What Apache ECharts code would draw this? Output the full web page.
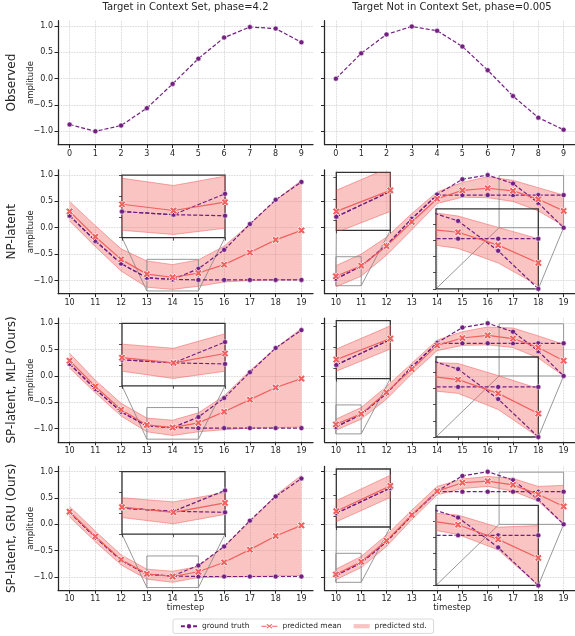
<!DOCTYPE html>
<html>
<head>
<meta charset="utf-8">
<script src="https://cdn.jsdelivr.net/npm/echarts@6/dist/echarts.min.js"></script>
<style>
  html, body { margin: 0; padding: 0; background: #fff; }
  #chart { width: 575px; height: 636px; }
</style>
</head>
<body>
<div id="chart"></div>
<script>
// x positions
const xObs = [0, 1, 2, 3, 4, 5, 6, 7, 8, 9];
const xTgt = [10, 11, 12, 13, 14, 15, 16, 17, 18, 19];
const yTicks = [-1, -0.5, 0, 0.5, 1];

// observed (context) curves
const obsLeft = [-0.87, -1.0, -0.89, -0.56, -0.10, 0.38, 0.78, 0.98, 0.95, 0.69];
const obsRight = [0.0, 0.48, 0.84, 0.99, 0.91, 0.61, 0.16, -0.33, -0.74, -0.97];

// ground truth targets (two branches each)
const gtLeftA = [0.23, -0.25, -0.68, -0.95, -0.98, -0.78, -0.42, 0.07, 0.53, 0.87];
const gtLeftB = [0.23, -0.25, -0.68, -0.95, -0.98, -0.99, -0.99, -0.99, -0.99, -0.99];
const gtRightA = [-0.97, -0.73, -0.33, 0.17, 0.63, 0.92, 1.0, 0.84, 0.47, 0.0];
const gtRightB = [-0.97, -0.73, -0.33, 0.17, 0.62, 0.62, 0.62, 0.62, 0.62, 0.62];

// NP-latent
const npLeftMean = [0.31, -0.17, -0.60, -0.88, -0.94, -0.86, -0.70, -0.47, -0.23, -0.05];
const npLeftUpper = [0.50, 0.04, -0.40, -0.63, -0.70, -0.61, -0.35, 0.07, 0.52, 0.90];
const npLeftLower = [0.13, -0.36, -0.82, -1.13, -1.17, -1.11, -1.03, -1.00, -0.99, -0.99];
const npRightMean = [-0.92, -0.72, -0.35, 0.11, 0.55, 0.71, 0.75, 0.70, 0.54, 0.32];
const npRightUpper = [-0.72, -0.50, -0.18, 0.27, 0.68, 0.86, 0.97, 0.90, 0.76, 0.62];
const npRightLower = [-1.12, -0.92, -0.52, -0.04, 0.46, 0.58, 0.57, 0.50, 0.32, 0.04];

// SP-latent, MLP
const mlpLeftMean = [0.29, -0.20, -0.64, -0.93, -0.98, -0.89, -0.68, -0.45, -0.22, -0.05];
const mlpLeftUpper = [0.43, -0.08, -0.52, -0.80, -0.84, -0.70, -0.38, 0.10, 0.53, 0.90];
const mlpLeftLower = [0.15, -0.32, -0.76, -1.06, -1.13, -1.06, -1.02, -0.99, -0.98, -0.97];
const mlpRightMean = [-0.92, -0.72, -0.31, 0.13, 0.58, 0.72, 0.77, 0.71, 0.54, 0.29];
const mlpRightUpper = [-0.82, -0.60, -0.20, 0.24, 0.68, 0.84, 0.93, 0.91, 0.76, 0.60];
const mlpRightLower = [-1.03, -0.82, -0.44, 0.04, 0.48, 0.58, 0.59, 0.54, 0.34, 0.00];

// SP-latent, GRU
const gruLeftMean = [0.24, -0.23, -0.67, -0.94, -0.99, -0.90, -0.72, -0.48, -0.22, -0.02];
const gruLeftUpper = [0.34, -0.13, -0.58, -0.85, -0.89, -0.80, -0.42, 0.05, 0.55, 0.93];
const gruLeftLower = [0.14, -0.33, -0.77, -1.04, -1.10, -1.01, -1.00, -0.99, -0.98, -0.97];
const gruRightMean = [-0.95, -0.71, -0.31, 0.18, 0.63, 0.79, 0.82, 0.75, 0.57, 0.34];
const gruRightUpper = [-0.85, -0.61, -0.20, 0.27, 0.72, 0.86, 0.91, 0.87, 0.72, 0.74];
const gruRightLower = [-1.05, -0.82, -0.42, 0.09, 0.56, 0.68, 0.72, 0.63, 0.44, 0.00];

const rowLabels = ['Observed', 'NP-latent', 'SP-latent, MLP (Ours)', 'SP-latent, GRU (Ours)'];
const colTitles = ['Target in Context Set, phase=4.2', 'Target Not in Context Set, phase=0.005'];

const FONT = 'DejaVu Sans';
const GT = '#721f81', PRED = '#f1605d';
const FILL = 'rgba(241,96,93,0.37)', EDGE = 'rgba(241,96,93,0.6)';
const AX = '#262626', GRIDC = '#c8c8c8', ZOOMC = '#8c8c8c';
const xSymbol = 'path://M2.5,0L5,2.5L7.5,0L10,2.5L7.5,5L10,7.5L7.5,10L5,7.5L2.5,10L0,7.5L2.5,5L0,2.5Z';
// legend icon: short line with an x in the middle
const predIcon = 'path://M0,4.4L6.5,4.4L6.5,5.6L0,5.6Z M13.5,4.4L20,4.4L20,5.6L13.5,5.6Z ' +
  'M7.3,2.2L10,4.2L12.7,2.2L13.6,3.1L11,5L13.6,6.9L12.7,7.8L10,5.8L7.3,7.8L6.4,6.9L9,5L6.4,3.1Z';

// layout
const rowTop = [20.7, 169.8, 318, 466.4];
const rowH = 123.8;
const colLeft = [58, 324.5];
const colW = 255;

// inset boxes: left column one, right column two
const insetsLeft = [
  { left: 122, dy: 5.3, w: 103, h: 62.5, x: [13, 15], y: [-1.2, -0.6], xt: [13, 14, 15], yt: [-1.2, -1.0, -0.8, -0.6] }
];
const insetsRight = [
  { left: 336.3, dy: 2.6, w: 54, h: 58, x: [10, 11], y: [-1.1, -0.55], xt: [10, 11], yt: [-1.0, -0.8, -0.6] },
  { left: 436, dy: 39, w: 102.3, h: 80, x: [16.45, 19], y: [0, 0.99], xt: [17, 18, 19], yt: [0, 0.2, 0.4, 0.6, 0.8] }
];

const grids = [], xAxes = [], yAxes = [], series = [], graphics = [];

function fmtY(v) {
  return (v < 0 ? '\u2212' : '') + Math.abs(v).toFixed(1);
}

function addGrid(g, xa, ya) {
  grids.push(g);
  const i = grids.length - 1;
  xa.gridIndex = i; ya.gridIndex = i;
  xAxes.push(xa); yAxes.push(ya);
  return i;
}

function mainAxis(min, max, ticks, showLabel, fmt) {
  return {
    type: 'value', min: min, max: max,
    axisLine: { show: true, onZero: false, lineStyle: { color: AX, width: 1.25 } },
    axisTick: { show: true, length: 3.5, lineStyle: { color: AX, width: 1 }, customValues: ticks },
    axisLabel: { show: showLabel, customValues: ticks, fontSize: 8, color: AX, margin: 5, fontFamily: FONT, formatter: fmt },
    splitLine: { show: true, lineStyle: { color: GRIDC, type: 'dotted', width: 0.8 } }
  };
}

function insetAxis(min, max, ticks) {
  return {
    type: 'value', min: min, max: max, z: 6,
    axisLine: { show: false },
    axisTick: { show: true, length: 3, lineStyle: { color: AX, width: 0.8 }, customValues: ticks },
    axisLabel: { show: false },
    splitLine: { show: false }
  };
}

function gtLine(gi, xs, ys, z) {
  return {
    type: 'line', name: 'ground truth', xAxisIndex: gi, yAxisIndex: gi, z: z,
    data: xs.map((x, i) => [x, ys[i]]),
    symbol: 'circle', symbolSize: 5, showAllSymbol: true,
    lineStyle: { color: GT, width: 1.2, type: [4, 2] },
    itemStyle: { color: GT, borderColor: '#fff', borderWidth: 0.5 },
    emphasis: { disabled: true }, animation: false
  };
}

function predLine(gi, xs, ys, z) {
  return {
    type: 'line', name: 'predicted mean', xAxisIndex: gi, yAxisIndex: gi, z: z,
    data: xs.map((x, i) => [x, ys[i]]),
    symbol: xSymbol, symbolSize: 7.5, showAllSymbol: true,
    lineStyle: { color: PRED, width: 1.2 },
    itemStyle: { color: PRED, borderColor: '#fff', borderWidth: 0.8 },
    emphasis: { disabled: true }, animation: false
  };
}

function band(gi, xs, lo, hi, z) {
  return {
    type: 'custom', name: 'predicted std.', xAxisIndex: gi, yAxisIndex: gi, z: z,
    clip: true, silent: true,
    itemStyle: { color: FILL },
    data: [[xs[xs.length - 1], hi[hi.length - 1]]],
    renderItem: function (params, api) {
      const up = xs.map((x, i) => api.coord([x, hi[i]]));
      const dn = xs.map((x, i) => api.coord([x, lo[i]]));
      return {
        type: 'group',
        children: [
          { type: 'polygon', shape: { points: up.concat(dn.slice().reverse()) }, style: { fill: FILL, stroke: null } },
          { type: 'polyline', shape: { points: up }, style: { fill: null, stroke: EDGE, lineWidth: 0.9 } },
          { type: 'polyline', shape: { points: dn }, style: { fill: null, stroke: EDGE, lineWidth: 0.9 } }
        ]
      };
    }
  };
}

// zoom rectangle in the main panel + connector lines to the inset's lower corners
function zoomMark(gi, ins, top) {
  const ix0 = ins.left, ix1 = ins.left + ins.w, iy1 = top + ins.dy + ins.h;
  return {
    type: 'custom', xAxisIndex: gi, yAxisIndex: gi, z: 3, clip: false, silent: true,
    data: [[ins.x[1], ins.y[1]]],
    renderItem: function (params, api) {
      const p0 = api.coord([ins.x[0], ins.y[0]]);
      const p1 = api.coord([ins.x[1], ins.y[1]]);
      const st = { fill: null, stroke: ZOOMC, lineWidth: 0.9 };
      return {
        type: 'group',
        children: [
          { type: 'rect', shape: { x: p0[0], y: p1[1], width: p1[0] - p0[0], height: p0[1] - p1[1] }, style: st },
          { type: 'line', shape: { x1: ix0, y1: iy1, x2: p0[0], y2: p0[1] }, style: st },
          { type: 'line', shape: { x1: ix1, y1: iy1, x2: p1[0], y2: p0[1] }, style: st }
        ]
      };
    }
  };
}

// row 1: observed
[obsLeft, obsRight].forEach((ys, c) => {
  const gi = addGrid(
    { left: colLeft[c], top: rowTop[0], width: colW, height: rowH },
    mainAxis(-0.45, 9.45, xObs, true, v => String(v)),
    mainAxis(-1.25, 1.1, yTicks, c === 0, fmtY)
  );
  series.push(gtLine(gi, xObs, ys, 4));
});

// rows 2-4: predictions
const rowData = [
  [[npLeftMean, npLeftUpper, npLeftLower], [npRightMean, npRightUpper, npRightLower]],
  [[mlpLeftMean, mlpLeftUpper, mlpLeftLower], [mlpRightMean, mlpRightUpper, mlpRightLower]],
  [[gruLeftMean, gruLeftUpper, gruLeftLower], [gruRightMean, gruRightUpper, gruRightLower]]
];
const gtPairs = [[gtLeftA, gtLeftB], [gtRightA, gtRightB]];

rowData.forEach((row, r) => {
  const top = rowTop[r + 1];
  row.forEach((d, c) => {
    const [mean, hi, lo] = d;
    const gi = addGrid(
      { left: colLeft[c], top: top, width: colW, height: rowH },
      mainAxis(9.55, 19.45, xTgt, true, v => String(v)),
      mainAxis(-1.25, 1.1, yTicks, c === 0, fmtY)
    );
    series.push(band(gi, xTgt, lo, hi, 1));
    series.push(gtLine(gi, xTgt, gtPairs[c][1], 4));
    series.push(gtLine(gi, xTgt, gtPairs[c][0], 4));
    series.push(predLine(gi, xTgt, mean, 5));

    const insets = c === 0 ? insetsLeft : insetsRight;
    insets.forEach(ins => {
      series.push(zoomMark(gi, ins, top));
      const ii = addGrid(
        { left: ins.left, top: top + ins.dy, width: ins.w, height: ins.h, show: true,
          borderColor: '#333', borderWidth: 1.3, backgroundColor: 'transparent', z: 5 },
        insetAxis(ins.x[0], ins.x[1], ins.xt),
        insetAxis(ins.y[0], ins.y[1], ins.yt)
      );
      series.push(band(ii, xTgt, lo, hi, 6));
      series.push(gtLine(ii, xTgt, gtPairs[c][1], 7));
      series.push(gtLine(ii, xTgt, gtPairs[c][0], 7));
      series.push(predLine(ii, xTgt, mean, 8));
    });
  });
});

// texts
colTitles.forEach((t, c) => {
  graphics.push({ type: 'text', x: colLeft[c] + colW / 2, y: 7,
    style: { text: t, font: '10px "DejaVu Sans"', fill: AX, align: 'center', verticalAlign: 'middle' } });
  graphics.push({ type: 'text', x: colLeft[c] + colW / 2, y: 608,
    style: { text: 'timestep', font: '8.5px "DejaVu Sans"', fill: AX, align: 'center', verticalAlign: 'middle' } });
});
rowLabels.forEach((t, r) => {
  const cy = rowTop[r] + rowH / 2;
  graphics.push({ type: 'text', x: 12, y: cy, rotation: Math.PI / 2,
    style: { text: t, font: '12px "DejaVu Sans"', fill: AX, align: 'center', verticalAlign: 'middle' } });
  graphics.push({ type: 'text', x: 30.5, y: cy, rotation: Math.PI / 2,
    style: { text: 'amplitude', font: '8.5px "DejaVu Sans"', fill: AX, align: 'center', verticalAlign: 'middle' } });
});

const chart = echarts.init(document.getElementById('chart'), null, { renderer: 'canvas' });
chart.setOption({
  animation: false,
  backgroundColor: '#fff',
  textStyle: { fontFamily: FONT },
  grid: grids,
  xAxis: xAxes,
  yAxis: yAxes,
  series: series,
  graphic: graphics,
  legend: {
    left: 173, top: 619, itemGap: 12, itemWidth: 16, itemHeight: 8,
    padding: [3, 7], borderColor: '#d9d9d9', borderWidth: 1, borderRadius: 2,
    textStyle: { fontSize: 7.5, color: AX, fontFamily: FONT },
    selectedMode: false,
    data: [
      { name: 'ground truth' },
      { name: 'predicted mean', icon: predIcon, itemStyle: { color: PRED, borderWidth: 0 } },
      { name: 'predicted std.', icon: 'path://M0,0L15,0L15,4L0,4Z', itemStyle: { color: '#f8c4c3', borderWidth: 0 } }
    ]
  }
});
</script>
</body>
</html>
